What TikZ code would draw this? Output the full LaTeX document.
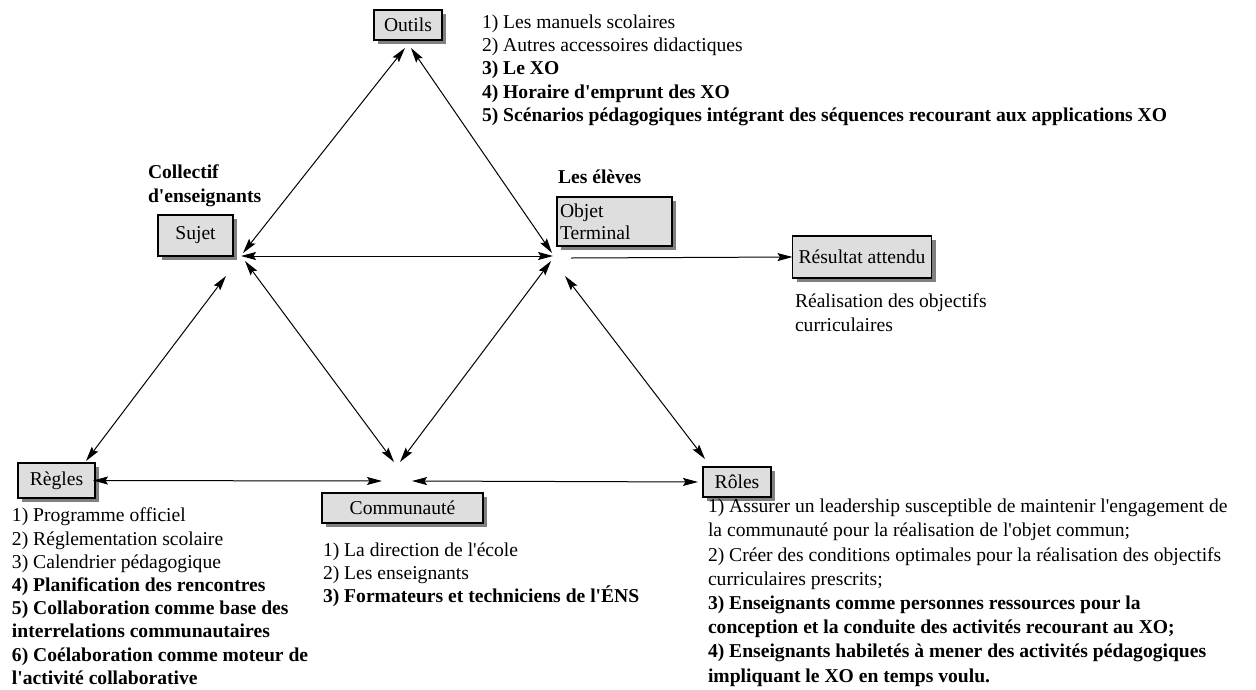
\documentclass[tikz,border=0pt]{standalone}
\usepackage{fontspec}
\setmainfont{Liberation Serif}[Ligatures=TeXOff]
\usetikzlibrary{arrows.meta,shadows}
\definecolor{boxgray}{RGB}{222,222,222}
\definecolor{shadowgray}{RGB}{128,128,128}
\begin{document}
\begin{tikzpicture}[x=1pt,y=-1pt,
  every node/.style={inner sep=0pt,outer sep=0pt},
  body/.style={font=\fontsize{19.6}{23.3}\selectfont},
  txt/.style={body,align=left,anchor=north west},
  box/.style={body,draw=black,line width=1.1pt,fill=boxgray,
    drop shadow={shadow xshift=4pt,shadow yshift=-4pt,fill=shadowgray,opacity=1}},
  head/.style={Stealth[length=15pt,width=8pt,inset=2.5pt]},
  link/.style={line width=1pt,{Stealth[length=15pt,width=8pt,inset=2.5pt]}-{Stealth[length=15pt,width=8pt,inset=2.5pt]}},
  flow/.style={line width=1pt,-{Stealth[length=15pt,width=8pt,inset=2.5pt]}}]

\useasboundingbox (0,0) rectangle (1256,689);

% the seven labelled boxes
\node[box,minimum width=68pt,minimum height=30pt] (outils) at (408,25) {Outils};
\node[box,minimum width=75pt,minimum height=41pt] (sujet) at (195.5,235.5) {Sujet};
\node[box,minimum height=49pt,text width=109pt,inner xsep=3pt,align=left,
  font=\fontsize{19.6}{22}\selectfont] (objet) at (614.5,221.5) {Objet\\Terminal};
\node[box,minimum width=139pt,minimum height=42pt] (resultat) at (862,257) {Résultat attendu};
\node[box,minimum width=77pt,minimum height=35pt] (regles) at (56.5,480.5) {Règles};
\node[box,minimum width=161pt,minimum height=30pt] (communaute) at (402.5,508) {Communauté};
\node[box,minimum width=68pt,minimum height=30pt] (roles) at (737,482) {Rôles};

% headings above the subject and the object
\node[txt,font=\fontsize{19.6}{24}\selectfont\bfseries] (collectif) at (148,165) {Collectif\\d'enseignants};
\node[txt,font=\fontsize{19.6}{24}\selectfont\bfseries] (eleves) at (558,170) {Les élèves};

% descriptive lists
\node[txt] (listeoutils) at (482,14.5) {1) Les manuels scolaires\\
2) Autres accessoires didactiques\\
\textbf{3) Le XO}\\
\textbf{4) Horaire d'emprunt des XO}\\
\textbf{5) Scénarios pédagogiques intégrant des séquences recourant aux applications XO}};

\node[txt] (realisation) at (795,294) {Réalisation des objectifs\\curriculaires};

\node[txt,font=\fontsize{19.6}{23.2}\selectfont] (listeregles) at (12,508) {1) Programme officiel\\
2) Réglementation scolaire\\
3) Calendrier pédagogique\\
\textbf{4) Planification des rencontres}\\
\textbf{5) Collaboration comme base des}\\
\textbf{interrelations communautaires}\\
\textbf{6) Coélaboration comme moteur de}\\
\textbf{l'activité collaborative}};

\node[txt] (listecommunaute) at (323,542.5) {1) La direction de l'école\\
2) Les enseignants\\
\textbf{3) Formateurs et techniciens de l'ÉNS}};

\node[txt,font=\fontsize{19.6}{24.2}\selectfont] (listeroles) at (708,499) {1) Assurer un leadership susceptible de maintenir l'engagement de\\
la communauté pour la réalisation de l'objet commun;\\
2) Créer des conditions optimales pour la réalisation des objectifs\\
curriculaires prescrits;\\
\textbf{3) Enseignants comme personnes ressources pour la}\\
\textbf{conception et la conduite des activités recourant au XO;}\\
\textbf{4) Enseignants habiletés à mener des activités pédagogiques}\\
\textbf{impliquant le XO en temps voulu.}};

% junction points of the triangle
\coordinate (ot1) at (405,48);
\coordinate (ot2) at (411,48);
\coordinate (sj1) at (243,253);
\coordinate (sj2) at (241,256);
\coordinate (sj3) at (245,261);
\coordinate (sj4) at (226,276);
\coordinate (ob1) at (552,253);
\coordinate (ob2) at (553,256);
\coordinate (ob3) at (551,261);
\coordinate (ob4) at (565,276);
\coordinate (ob5) at (571,258);
\coordinate (rg1) at (86,461);
\coordinate (cm1) at (394,462);
\coordinate (cm2) at (400,462);
\coordinate (cm3) at (382,481);
\coordinate (cm4) at (412,481);
\coordinate (rl1) at (705,459);

% connectors
\draw[link] (ot1) -- (sj1);
\draw[link] (ot2) -- (ob1);
\draw[link] (sj2) -- (ob2);
\draw[flow] (ob5) -- (resultat.west);
\draw[link] (rg1) -- (sj4);
\draw[link] (sj3) -- (cm1);
\draw[link] (ob3) -- (cm2);
\draw[link] (ob4) -- (rl1);
\draw[link,shorten <=-2pt] (regles.east) -- (cm3);
\draw[link,shorten >=5pt] (cm4) -- (roles.west);
\end{tikzpicture}
\end{document}
